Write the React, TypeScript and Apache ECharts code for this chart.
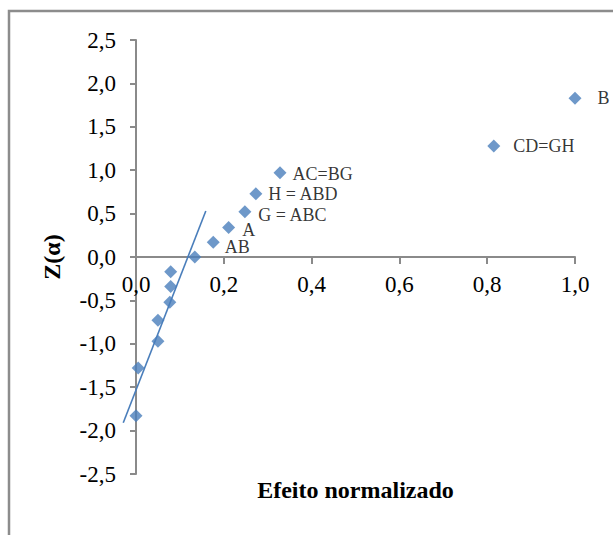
import React, { useEffect, useRef } from "react";
import * as echarts from "echarts";

// Normal probability plot of the normalized effects
const effects = [0.0, 0.005, 0.05, 0.05, 0.077, 0.079, 0.079, 0.134, 0.176, 0.211, 0.248, 0.273, 0.328, 0.815, 1.0];
const zScores = [-1.83, -1.28, -0.97, -0.73, -0.52, -0.34, -0.17, 0.0, 0.17, 0.34, 0.52, 0.73, 0.97, 1.28, 1.83];
const effectLabels = ["", "", "", "", "", "", "", "", "AB", "A", "G = ABC", "H = ABD", "AC=BG", "CD=GH", "B"];

// Reference line through the small (non-significant) effects: [x0, y0, x1, y1]
const lineX = [-0.029, 0.159];
const lineY = [-1.91, 0.53];

const xTicks = { min: 0, max: 1, interval: 0.2 };
const yTicks = { min: -2.5, max: 2.5, interval: 0.5 };

const FONT = "Liberation Serif";
const AXIS_COLOR = "#8a8a8a";
const BLUE = "#4a7ebb";

const GRID = { left: 136, right: 38, top: 40, bottom: 61 };
const HEIGHT = 535;

const fmt = (v: number) => v.toFixed(1).replace(".", ",");

export default function App() {
  const ref = useRef<HTMLDivElement>(null);

  useEffect(() => {
    if (!ref.current) return;
    const chart = echarts.init(ref.current, undefined, { renderer: "svg" });

    // label nudges: [extra gap, vertical shift]
    const nudge = (label: string): [number, number] => {
      if (label === "B") return [16, 0];
      if (label === "CD=GH") return [13, 0];
      if (label === "AB") return [5, 5];
      if (label === "A") return [7, 3];
      if (label === "G = ABC") return [7, 3];
      if (label === "AC=BG") return [6, 1];
      return [6, 0];
    };

    const points = effects.map((x, i) => {
      const text = effectLabels[i];
      const [d, dy] = nudge(text);
      return {
        value: [x, zScores[i]],
        label: {
          show: text !== "",
          formatter: text,
          distance: d,
          offset: [0, dy],
        },
      };
    });

    // lift the horizontal axis from the bottom edge up to Z = 0
    const plotH = HEIGHT - GRID.top - GRID.bottom;
    const zeroLift =
      -plotH * ((0 - yTicks.min) / (yTicks.max - yTicks.min));

    chart.setOption({
      animation: false,
      backgroundColor: "#ffffff",
      textStyle: { fontFamily: FONT },
      graphic: [
        {
          type: "rect",
          shape: { x: 9, y: 11, width: 700, height: 600 },
          style: { fill: "none", stroke: "#8c8c8c", lineWidth: 2.5 },
          silent: true,
          z: -1,
        },
      ],
      grid: {
        ...GRID,
        containLabel: false,
        outerBoundsMode: "none",
      },
      xAxis: {
        type: "value",
        position: "bottom",
        offset: zeroLift,
        min: xTicks.min,
        max: xTicks.max,
        interval: xTicks.interval,
        name: "Efeito normalizado",
        nameLocation: "middle",
        nameGap: 221,
        nameTextStyle: { fontFamily: FONT, fontSize: 24, fontWeight: "bold", color: "#000" },
        axisLine: { show: true, onZero: false, lineStyle: { color: AXIS_COLOR, width: 2 } },
        axisTick: { show: true, length: 7, lineStyle: { color: AXIS_COLOR, width: 2 } },
        axisLabel: { formatter: fmt, fontFamily: FONT, fontSize: 23, color: "#000", margin: 16 },
        splitLine: { show: false },
      },
      yAxis: {
        type: "value",
        min: yTicks.min,
        max: yTicks.max,
        interval: yTicks.interval,
        name: "Z(α)",
        nameLocation: "middle",
        nameGap: 72,
        nameRotate: 90,
        nameTextStyle: { fontFamily: FONT, fontSize: 24, fontWeight: "bold", color: "#000" },
        axisLine: { show: true, onZero: false, lineStyle: { color: AXIS_COLOR, width: 2 } },
        axisTick: { show: true, length: 6, lineStyle: { color: AXIS_COLOR, width: 2 } },
        axisLabel: { formatter: fmt, fontFamily: FONT, fontSize: 23, color: "#000", margin: 20 },
        splitLine: { show: false },
      },
      series: [
        {
          type: "custom",
          data: [[lineX[0], lineY[0], lineX[1], lineY[1]]],
          encode: { x: [0, 2], y: [1, 3] },
          clip: false,
          silent: true,
          z: 3,
          renderItem: (_params: any, api: any) => {
            const p0 = api.coord([api.value(0), api.value(1)]);
            const p1 = api.coord([api.value(2), api.value(3)]);
            return {
              type: "line",
              shape: { x1: p0[0], y1: p0[1], x2: p1[0], y2: p1[1] },
              style: { stroke: BLUE, lineWidth: 1.6 },
            };
          },
        },
        {
          type: "scatter",
          data: points,
          symbol: "diamond",
          symbolSize: 13,
          itemStyle: { color: BLUE },
          label: {
            position: "right",
            fontFamily: FONT,
            fontSize: 18,
            color: "#000",
          },
          clip: false,
          z: 4,
        },
      ],
    });

    return () => chart.dispose();
  }, []);

  return (
    <div
      ref={ref}
      style={{ position: "fixed", left: 0, top: 0, width: 613, height: 535 }}
    />
  );
}
